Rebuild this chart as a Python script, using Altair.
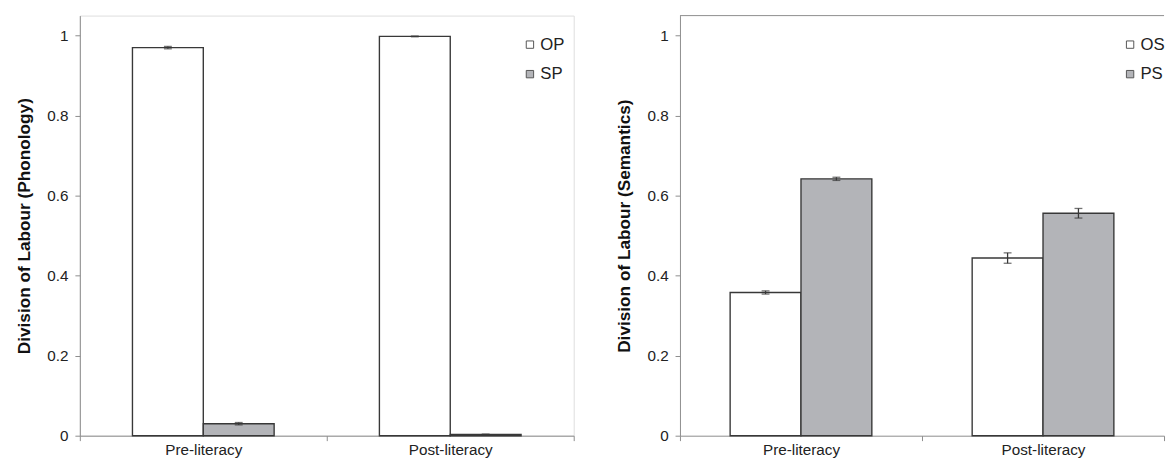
import altair as alt
import pandas as pd

categories = ["Pre-literacy", "Post-literacy"]

phon_series = ["OP", "SP"]
op_values = [0.970, 0.998]
op_errors = [0.003, 0.001]
sp_values = [0.030, 0.003]
sp_errors = [0.003, 0.001]

sem_series = ["OS", "PS"]
os_values = [0.358, 0.444]
os_errors = [0.004, 0.013]
ps_values = [0.642, 0.556]
ps_errors = [0.004, 0.012]

y_ticks = [0, 0.2, 0.4, 0.6, 0.8, 1]

FILL = ["#ffffff", "#b3b4b8"]
AXIS_GRAY = "#8c8c8c"
BAR_STROKE = "#383838"
FONT = "Liberation Sans"
PLOT_H = 427


def make_df(series, vals_a, errs_a, vals_b, errs_b):
    rows = []
    for name, vals, errs in [(series[0], vals_a, errs_a), (series[1], vals_b, errs_b)]:
        for c, v, e in zip(categories, vals, errs):
            rows.append({"cat": c, "series": name, "value": v, "lo": v - e, "hi": v + e})
    return pd.DataFrame(rows)


def panel(df, series, title, width, offset_pad, frame):
    x = alt.X(
        "cat:N", sort=categories, title=None,
        scale=alt.Scale(paddingInner=0, paddingOuter=0),
        axis=alt.Axis(labelAngle=0, tickBand="extent", tickSize=5, labelPadding=2,
                      domainColor=AXIS_GRAY, tickColor=AXIS_GRAY, labelFontSize=15.5,
                      labelColor="#222222", labelFont=FONT),
    )
    xo = alt.XOffset("series:N", sort=series,
                     scale=alt.Scale(paddingInner=0, paddingOuter=offset_pad))
    yscale = alt.Scale(domain=[0, 1.05], nice=False, zero=True)
    yaxis = alt.Axis(values=y_ticks, format="~g", grid=False, tickSize=5, labelPadding=7,
                     domainColor=AXIS_GRAY, tickColor=AXIS_GRAY, labelFontSize=15.5,
                     labelColor="#222222", labelFont=FONT, titleFont=FONT,
                     titleFontSize=17.5, titleFontWeight="bold", titleColor="#111111",
                     titlePadding=12, minExtent=35, maxExtent=35)
    base = alt.Chart(df)
    bars = base.mark_bar(stroke=BAR_STROKE, strokeWidth=1.4).encode(
        x=x, xOffset=xo,
        y=alt.Y("value:Q", title=title, scale=yscale, axis=yaxis),
        color=alt.Color("series:N", sort=series,
                        scale=alt.Scale(domain=series, range=FILL),
                        legend=alt.Legend(title=None, orient="none", legendX=449, legendY=21,
                                          symbolType="square", symbolSize=56,
                                          symbolStrokeColor="#555555", symbolStrokeWidth=1,
                                          labelFontSize=17, labelFont=FONT,
                                          labelColor="#222222", rowPadding=12,
                                          labelOffset=2, padding=0)),
    )
    rules = base.mark_rule(color=BAR_STROKE, strokeWidth=1.3).encode(
        x=x, xOffset=xo,
        y=alt.Y("lo:Q", title=title, scale=yscale), y2="hi:Q",
    )
    cap_lo = base.mark_tick(color=BAR_STROKE, thickness=1.3, size=8, orient="horizontal").encode(
        x=x, xOffset=xo, y=alt.Y("lo:Q", title=title, scale=yscale),
    )
    cap_hi = base.mark_tick(color=BAR_STROKE, thickness=1.3, size=8, orient="horizontal").encode(
        x=x, xOffset=xo, y=alt.Y("hi:Q", title=title, scale=yscale),
    )
    layers = [bars, rules, cap_lo, cap_hi]
    props = dict(width=width, height=PLOT_H)
    if not frame:
        top_line = alt.Chart(pd.DataFrame({"edge": ["top"]})).mark_rule(
            color=AXIS_GRAY, strokeWidth=1
        ).encode(x=alt.value(0), x2=alt.value(width), y=alt.value(0))
        layers.append(top_line)
        props["view"] = alt.ViewBackground(stroke="transparent")
    return alt.layer(*layers).properties(**props)


phon_df = make_df(phon_series, op_values, op_errors, sp_values, sp_errors)
sem_df = make_df(sem_series, os_values, os_errors, ps_values, ps_errors)

left = panel(phon_df, phon_series, "Division of Labour (Phonology)", 502, 0.743, True)
right = panel(sem_df, sem_series, "Division of Labour (Semantics)", 492, 0.708, False)

chart = (
    alt.hconcat(left, right, spacing=41)
    .resolve_scale(color="independent", x="independent", y="independent", xOffset="independent")
    .resolve_legend(color="independent")
    .properties(padding={"left": 7, "top": 3, "right": 0, "bottom": 0}, background="white")
    .configure_view(stroke=AXIS_GRAY, strokeWidth=1)
    .configure(font=FONT)
)

chart.save("out.html", embed_options={"renderer": "svg", "actions": False})
